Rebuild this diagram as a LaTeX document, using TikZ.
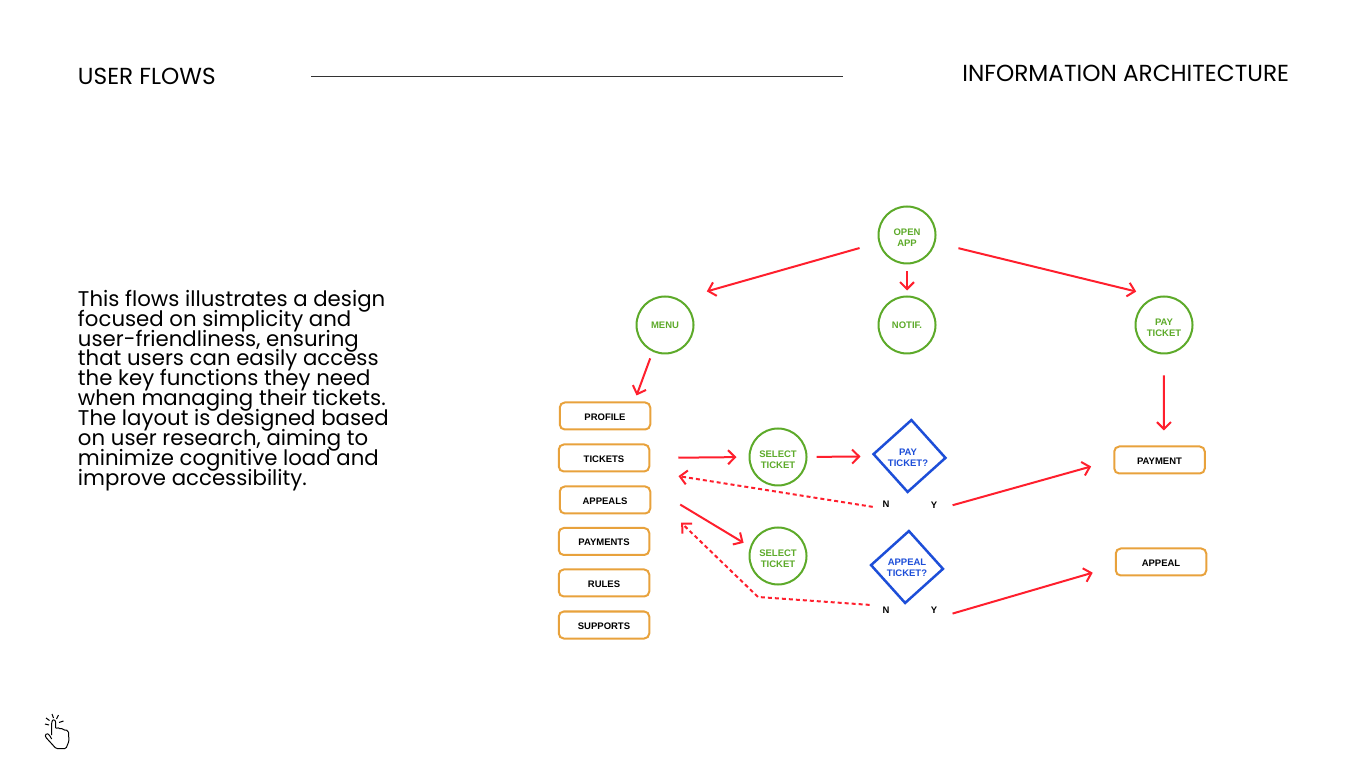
\documentclass[tikz,border=0pt]{standalone}
\usepackage{fontspec}
\setmainfont{Poppins}
\newfontfamily\labelfont{Liberation Sans}
\usetikzlibrary{positioning,shapes.geometric,arrows.meta,calc}
\definecolor{leaf}{HTML}{5DAA2A}
\definecolor{amber}{HTML}{E8A23C}
\definecolor{cobalt}{HTML}{1D4ED8}
\definecolor{flowred}{HTML}{FF1F2D}
\tikzset{
  heading/.style={inner sep=0, outer sep=0, font=\fontsize{6.6}{8}\selectfont},
  bodytext/.style={inner sep=0, outer sep=0, align=left, font=\fontsize{6.05}{5.66}\selectfont\lineskiplimit -5pt\relax},
  tiny/.style={font=\labelfont\bfseries\fontsize{2.7}{3.1}\selectfont\lineskiplimit -5pt\relax, align=center},
  stage/.style={circle, draw=leaf, line width=0.02cm, minimum size=0.57cm, inner sep=0, outer sep=0, tiny, text=leaf},
  stagetwo/.style={stage, execute at begin node={\rule{0pt}{6.6pt}}},
  screen/.style={rectangle, rounded corners=0.05cm, draw=amber, line width=0.02cm, minimum width=0.905cm, minimum height=0.27cm, inner sep=0, outer sep=0, tiny, text=black, execute at begin node={\rule{0pt}{2.5pt}}},
  decision/.style={diamond, draw=cobalt, line width=0.025cm, minimum width=0.72cm, minimum height=0.72cm, inner sep=0, outer sep=0, rotate=-3},
  decisiontext/.style={inner sep=0, tiny, text=cobalt},
  answer/.style={inner sep=0.01cm, outer sep=0, tiny, text=black},
  flow/.style={->, flowred, line width=0.02cm, >={Straight Barb[length=0.07cm,width=0.14cm,line width=0.02cm]}},
  back/.style={flow, dash pattern=on 0.04cm off 0.03cm}
}
\begin{document}
\begin{tikzpicture}
      \useasboundingbox (0,0) rectangle (13.66,7.68);

      \node[heading, anchor=west] (userflows) at (0.78,6.92) {USER FLOWS};
      \node[heading, anchor=east] (infoarch) at (12.89,6.95) {INFORMATION ARCHITECTURE};
      \draw[black!80, line width=0.008cm] (3.11,6.92) -- (8.43,6.92);

      \node[bodytext, anchor=north west] (summary) at (0.78,4.78) {This flows illustrates a design\\focused on simplicity and\\user-friendliness, ensuring\\that users can easily access\\the key functions they need\\when managing their tickets.\\The layout is designed based\\on user research, aiming to\\minimize cognitive load and\\improve accessibility.};

      \node[stagetwo] (open) at (9.07,5.33) {OPEN\\APP};
      \node[stage] (menu) at (6.65,4.43) {MENU};
      \node[stage] (notif) at (9.07,4.43) {NOTIF.};
      \node[stagetwo] (pay) at (11.64,4.43) {PAY\\TICKET};
      \node[stagetwo] (select1) at (7.78,3.11) {SELECT\\TICKET};
      \node[stagetwo] (select2) at (7.78,2.12) {SELECT\\TICKET};

      \node[screen] (profile) at (6.05,3.52) {PROFILE};
      \node[screen] (tickets) at (6.04,3.10) {TICKETS};
      \node[screen] (appeals) at (6.05,2.68) {APPEALS};
      \node[screen] (payments) at (6.04,2.265) {PAYMENTS};
      \node[screen] (rules) at (6.04,1.85) {RULES};
      \node[screen] (supports) at (6.04,1.43) {SUPPORTS};
      \node[screen] (payment) at (11.595,3.08) {PAYMENT};
      \node[screen] (appeal) at (11.61,2.06) {APPEAL};

      \node[decision] (paydec) at (9.095,3.12) {};
      \node[decisiontext] (paytext) at (9.08,3.10) {PAY\\TICKET?};
      \node[decision] (appealdec) at (9.07,2.01) {};
      \node[decisiontext] (appealtext) at (9.07,2.00) {APPEAL\\TICKET?};

      \node[answer] (no1) at (8.86,2.64) {N};
      \node[answer] (yes1) at (9.34,2.63) {Y};
      \node[answer] (no2) at (8.86,1.58) {N};
      \node[answer] (yes2) at (9.34,1.58) {Y};
      \coordinate (bend2) at (7.58,1.71);

      \draw[flow, shorten <=0.207cm, shorten >=0.30cm] (open.195) -- (menu.63);
      \draw[flow, shorten <=0.08cm, shorten >=0.06cm] (open.south) -- (notif.north);
      \draw[flow, shorten <=0.246cm, shorten >=0.23cm] (open.-15) -- (pay.101);
      \draw[flow, shorten <=0.08cm, shorten >=0.075cm] (menu.245) -- (profile.25);
      \draw[flow, shorten <=0.22cm, shorten >=0.16cm] (pay.south) -- (payment.72);
      \draw[flow, shorten <=0.29cm, shorten >=0.13cm] (tickets.east) -- (select1.west);
      \draw[flow, shorten <=0.10cm, shorten >=0.49cm] (select1.east) -- (paydec.center);
      \draw[back, shorten <=0.09cm, shorten >=0.296cm] (no1.south west) -- (tickets.south east);
      \draw[flow, shorten <=0.15cm, shorten >=0.24cm] (yes1.south east) -- (payment.west);
      \draw[flow, shorten <=0.35cm, shorten >=0.085cm] (appeals.north east) -- (select2.162);
      \draw[back, shorten <=0.12cm, shorten >=0.43cm] (no2.north west) -- (bend2) -- (appeals.9);
      \draw[flow, shorten <=0.15cm, shorten >=0.24cm] ([yshift=-0.035cm]yes2.south east) -- (appeal.185);

      \draw[black, line width=0.01cm, line join=round, rounded corners=0.012cm]
        (0.517,0.33) -- (0.517,0.445) .. controls (0.52,0.49) and (0.555,0.49) .. (0.557,0.445)
        -- (0.557,0.39) .. controls (0.575,0.405) and (0.59,0.40) .. (0.593,0.385)
        .. controls (0.61,0.40) and (0.63,0.39) .. (0.633,0.375)
        .. controls (0.655,0.385) and (0.685,0.375) .. (0.685,0.345)
        -- (0.69,0.27) -- (0.66,0.195) -- (0.56,0.195) -- (0.455,0.31)
        .. controls (0.45,0.34) and (0.47,0.345) .. (0.49,0.335) -- (0.517,0.29);
      \draw[black, line width=0.01cm] (0.45,0.44) -- (0.49,0.43);
      \draw[black, line width=0.01cm] (0.46,0.50) -- (0.495,0.475);
      \draw[black, line width=0.01cm] (0.52,0.54) -- (0.535,0.50);
      \draw[black, line width=0.01cm] (0.585,0.53) -- (0.565,0.49);
      \draw[black, line width=0.01cm] (0.635,0.47) -- (0.59,0.455);
    \end{tikzpicture}
\end{document}
